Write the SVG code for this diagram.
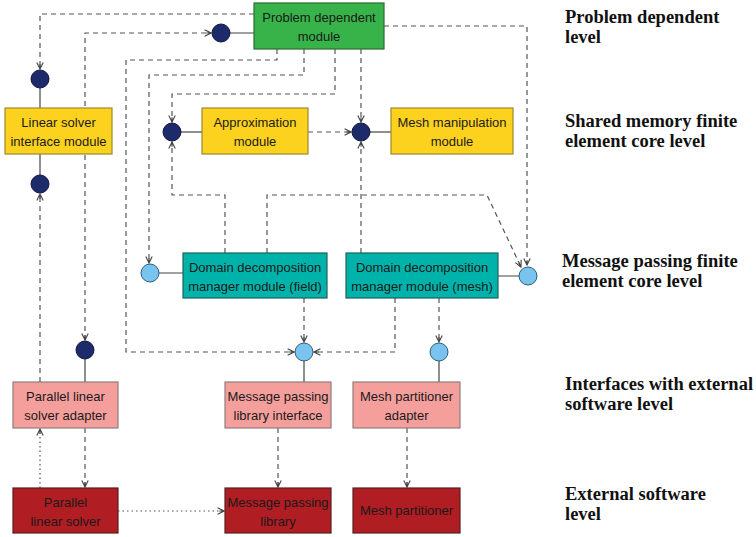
<svg xmlns="http://www.w3.org/2000/svg" width="756" height="537" viewBox="0 0 756 537">
<defs>
<marker id="ah" viewBox="0 0 10 10" refX="9" refY="5" markerWidth="8" markerHeight="8" markerUnits="userSpaceOnUse" orient="auto-start-reverse">
<path d="M1,1 L9,5 L1,9 M9,5 L3,5" fill="none" stroke="#444" stroke-width="1.4"/>
</marker>
</defs>
<style>
.bx{stroke-width:1.2}
.g{fill:#37b34a;stroke:#2b6b33}
.y{fill:#fcd21f;stroke:#9c8a2c}
.t{fill:#00b3aa;stroke:#245f5c}
.p{fill:#f59f9d;stroke:#8f7d7d}
.r{fill:#b01d22;stroke:#5a2020}
.nt{font-family:"Liberation Sans",Arial,sans-serif;font-size:13px;fill:#1a1a1a;text-anchor:middle}
.lv{font-family:"Liberation Serif","Times New Roman",serif;font-weight:bold;font-size:18.5px;fill:#111}
.d{fill:none;stroke:#555;stroke-width:1.2;stroke-dasharray:5,4}
.o{fill:none;stroke:#555;stroke-width:1.2;stroke-dasharray:1.5,3}
.s{fill:none;stroke:#444;stroke-width:1.2}
.nv{fill:#1e2b6b;stroke:#101840;stroke-width:1}
.lb{fill:#78c4ee;stroke:#2c5d7a;stroke-width:1}
</style>
<g id="connectors">
<path class="d" d="M254,14 H40 V69" marker-end="url(#ah)"/>
<path class="d" d="M85,340 V33 H211" marker-start="url(#ah)" marker-end="url(#ah)"/>
<path class="s" d="M221,33 H254"/>
<path class="s" d="M40,88 V108 M40,154 V175"/>
<path class="d" d="M40,382 V194" marker-end="url(#ah)"/>
<path class="s" d="M85,359 V382"/>
<path class="d" d="M85,428 V487" marker-end="url(#ah)"/>
<path class="o" d="M40,488 V429" marker-end="url(#ah)"/>
<path class="o" d="M118,511 H224" marker-end="url(#ah)"/>
<path class="d" d="M278,428 V487" marker-end="url(#ah)"/>
<path class="d" d="M407,428 V487" marker-end="url(#ah)"/>
<path class="s" d="M304,361 V382 M439,361 V382"/>
<path class="d" d="M304,298 V342" marker-end="url(#ah)"/>
<path class="d" d="M395,298 V352 H314" marker-end="url(#ah)"/>
<path class="d" d="M439,298 V342" marker-end="url(#ah)"/>
<path class="d" d="M277,49 V60 H126 V352 H294" marker-end="url(#ah)"/>
<path class="d" d="M304,49 V75 H149 V263" marker-end="url(#ah)"/>
<path class="d" d="M335,49 V94 H172 V122" marker-end="url(#ah)"/>
<path class="d" d="M225,253 V195 H172 V142" marker-end="url(#ah)"/>
<path class="s" d="M181,132 H202"/>
<path class="d" d="M308,132 H351" marker-end="url(#ah)"/>
<path class="d" d="M361,49 V122" marker-end="url(#ah)"/>
<path class="d" d="M361,253 V142" marker-end="url(#ah)"/>
<path class="s" d="M370,132 H391"/>
<path class="d" d="M267,253 V195 H487 L521,267" marker-end="url(#ah)"/>
<path class="d" d="M384,26 H527 V265" marker-end="url(#ah)"/>
<path class="s" d="M159,273 H183 M498,276 H519"/>
</g>
<g id="pdm"><rect class="bx g" x="254" y="3" width="130" height="46"/><text class="nt" x="319" y="22">Problem dependent</text><text class="nt" x="319" y="41">module</text></g>
<g id="lsim"><rect class="bx y" x="5" y="108" width="107" height="46"/><text class="nt" x="58.5" y="127">Linear solver</text><text class="nt" x="58.5" y="146">interface module</text></g>
<g id="am"><rect class="bx y" x="202" y="108" width="106" height="46"/><text class="nt" x="255" y="127">Approximation</text><text class="nt" x="255" y="146">module</text></g>
<g id="mmm"><rect class="bx y" x="391" y="108" width="122" height="46"/><text class="nt" x="452" y="127">Mesh manipulation</text><text class="nt" x="452" y="146">module</text></g>
<g id="ddf"><rect class="bx t" x="183" y="253" width="144" height="45"/><text class="nt" x="255" y="272">Domain decomposition</text><text class="nt" x="255" y="291">manager module (field)</text></g>
<g id="ddm"><rect class="bx t" x="346" y="253" width="152" height="45"/><text class="nt" x="422" y="272">Domain decomposition</text><text class="nt" x="422" y="291">manager module (mesh)</text></g>
<g id="plsa"><rect class="bx p" x="13" y="382" width="105" height="46"/><text class="nt" x="65.5" y="401">Parallel linear</text><text class="nt" x="65.5" y="420">solver adapter</text></g>
<g id="mpli"><rect class="bx p" x="225" y="382" width="106" height="46"/><text class="nt" x="278" y="401">Message passing</text><text class="nt" x="278" y="420">library interface</text></g>
<g id="mpa"><rect class="bx p" x="353" y="382" width="107" height="46"/><text class="nt" x="406.5" y="401">Mesh partitioner</text><text class="nt" x="406.5" y="420">adapter</text></g>
<g id="pls"><rect class="bx r" x="13" y="488" width="105" height="45"/><text class="nt" x="65.5" y="507">Parallel</text><text class="nt" x="65.5" y="526">linear solver</text></g>
<g id="mpl"><rect class="bx r" x="225" y="488" width="106" height="45"/><text class="nt" x="278" y="507">Message passing</text><text class="nt" x="278" y="526">library</text></g>
<g id="mp"><rect class="bx r" x="353" y="488" width="107" height="45"/><text class="nt" x="406.5" y="515">Mesh partitioner</text></g>
<g id="ports">
<circle class="nv" cx="221" cy="33" r="9"/>
<circle class="nv" cx="40" cy="79" r="9"/>
<circle class="nv" cx="40" cy="184" r="9"/>
<circle class="nv" cx="85" cy="350" r="9"/>
<circle class="nv" cx="172" cy="132" r="9"/>
<circle class="nv" cx="361" cy="132" r="9"/>
<circle class="lb" cx="150" cy="273" r="9"/>
<circle class="lb" cx="528" cy="276" r="9"/>
<circle class="lb" cx="304" cy="352" r="9"/>
<circle class="lb" cx="439" cy="352" r="9"/>
</g>
<g id="levels">
<text class="lv" x="565" y="23">Problem dependent</text><text class="lv" x="565" y="43">level</text>
<text class="lv" x="565" y="127">Shared memory finite</text><text class="lv" x="565" y="147">element core level</text>
<text class="lv" x="562" y="267">Message passing finite</text><text class="lv" x="562" y="287">element core level</text>
<text class="lv" x="565" y="390">Interfaces with external</text><text class="lv" x="565" y="410">software level</text>
<text class="lv" x="565" y="500">External software</text><text class="lv" x="565" y="520">level</text>
</g>
</svg>
